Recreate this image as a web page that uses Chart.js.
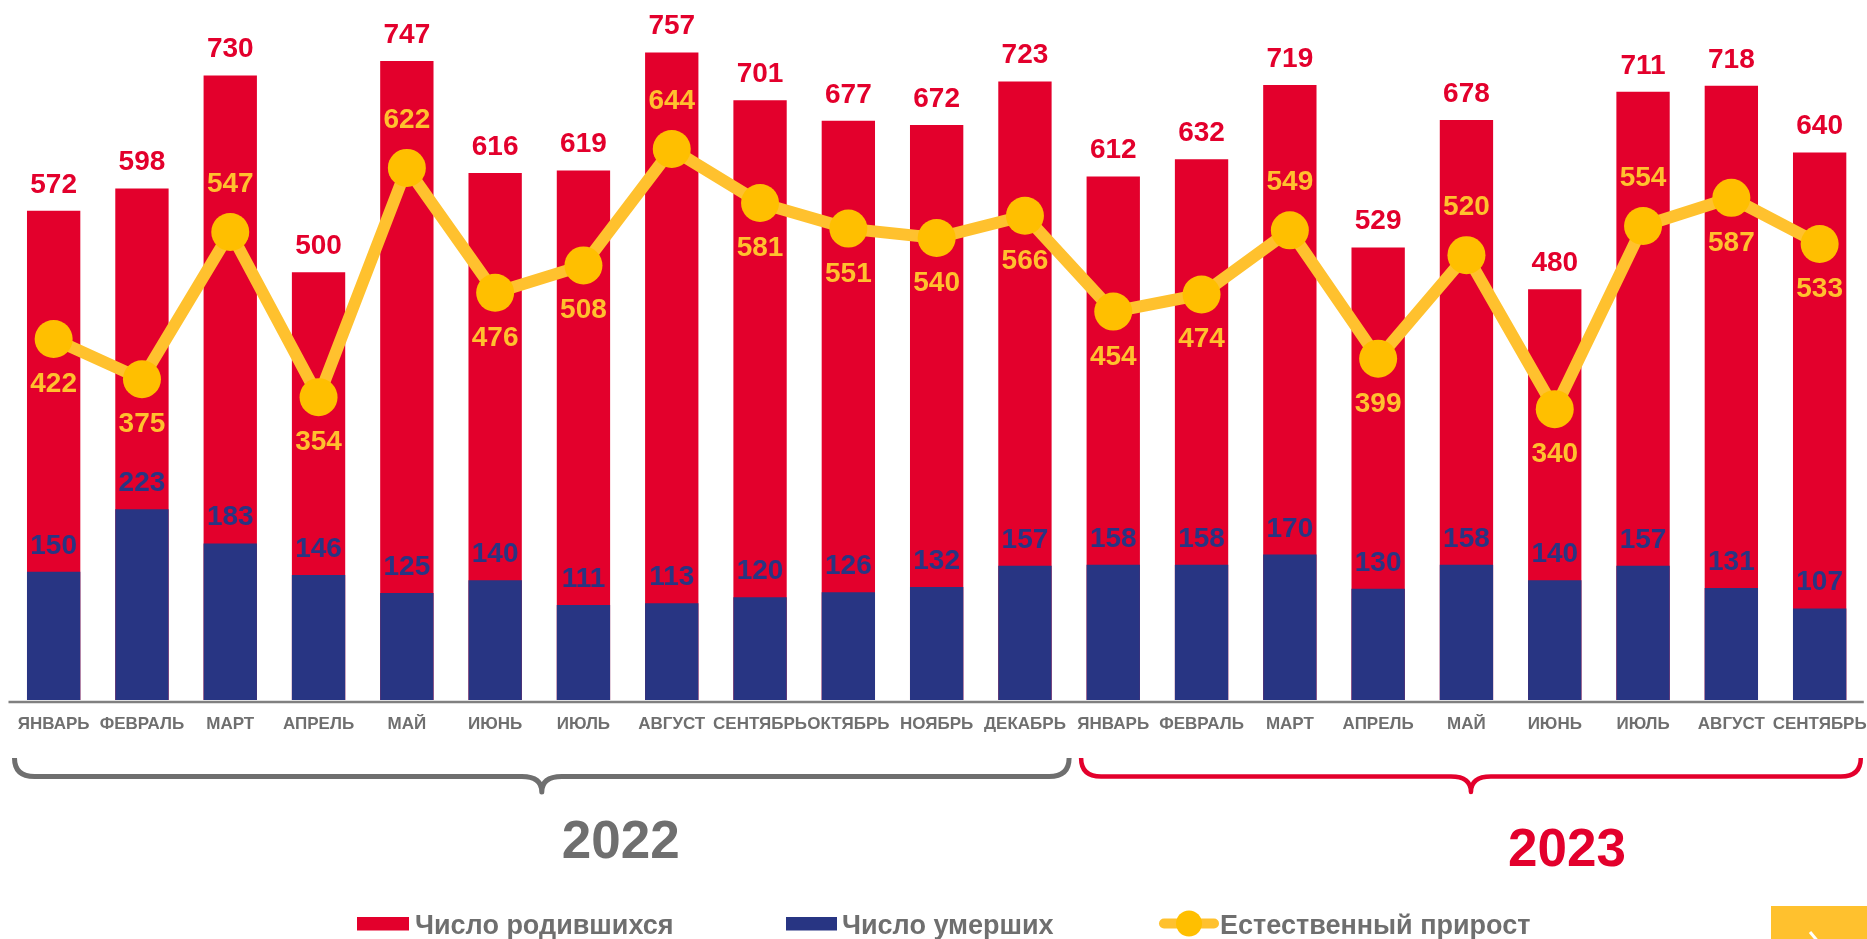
<!DOCTYPE html>
<html><head><meta charset="utf-8">
<script src="https://cdn.jsdelivr.net/npm/chart.js@4/dist/chart.umd.min.js"></script>
<style>html,body{margin:0;padding:0;background:#fff;overflow:hidden}canvas{display:block}</style>
</head><body>
<canvas id="c" width="1867" height="939"></canvas>
<script>
const months = ['ЯНВАРЬ','ФЕВРАЛЬ','МАРТ','АПРЕЛЬ','МАЙ','ИЮНЬ','ИЮЛЬ','АВГУСТ','СЕНТЯБРЬ','ОКТЯБРЬ','НОЯБРЬ','ДЕКАБРЬ','ЯНВАРЬ','ФЕВРАЛЬ','МАРТ','АПРЕЛЬ','МАЙ','ИЮНЬ','ИЮЛЬ','АВГУСТ','СЕНТЯБРЬ'];
const births = [572,598,730,500,747,616,619,757,701,677,672,723,612,632,719,529,678,480,711,718,640];
const deaths = [150,223,183,146,125,140,111,113,120,126,132,157,158,158,170,130,158,140,157,131,107];
const growth = [422,375,547,354,622,476,508,644,581,551,540,566,454,474,549,399,520,340,554,587,533];
const growthLabelSide = ['b','b','a','b','a','b','b','a','b','b','b','b','b','b','a','b','a','b','a','b','b'];
const yearGroups = [{label:'2022', from:0, to:11}, {label:'2023', from:12, to:20}];
const seriesNames = ['Число родившихся','Число умерших','Естественный прирост'];

const RED='#E3002C', NAVY='#283583', YEL='#FFC12E', YELPT='#FFBF00', GRAY='#6F6F6F';
const FONT='"Liberation Sans", Arial, sans-serif';

function brace(ctx,x1,x2,yTop,yMid,yTip,r,color,w){
  const xc=(x1+x2)/2;
  ctx.strokeStyle=color; ctx.lineWidth=w; ctx.lineCap='butt'; ctx.lineJoin='round';
  ctx.beginPath();
  ctx.moveTo(x1,yTop);
  ctx.quadraticCurveTo(x1,yMid,x1+r,yMid);
  ctx.lineTo(xc-r,yMid);
  ctx.quadraticCurveTo(xc,yMid,xc,yTip);
  ctx.quadraticCurveTo(xc,yMid,xc+r,yMid);
  ctx.lineTo(x2-r,yMid);
  ctx.quadraticCurveTo(x2,yMid,x2,yTop);
  ctx.stroke();
  return xc;
}

const overlay = {
  id:'overlay',
  afterDatasetsDraw(chart){
    const ctx=chart.ctx, ca=chart.chartArea, xs=chart.scales.x;
    ctx.save();
    // axis line
    ctx.strokeStyle='#808080'; ctx.lineWidth=2.5;
    ctx.beginPath(); ctx.moveTo(ca.left-1, ca.bottom+2); ctx.lineTo(ca.right, ca.bottom+2); ctx.stroke();
    // value labels
    ctx.font='bold 28px '+FONT; ctx.textAlign='center'; ctx.textBaseline='alphabetic';
    const mLine=chart.getDatasetMeta(0), mDeaths=chart.getDatasetMeta(1), mBirths=chart.getDatasetMeta(2);
    ctx.fillStyle=RED;
    mBirths.data.forEach((el,i)=>ctx.fillText(String(births[i]), el.x, el.y-18));
    ctx.fillStyle=NAVY;
    mDeaths.data.forEach((el,i)=>ctx.fillText(String(deaths[i]), el.x, el.y-18));
    ctx.fillStyle=YEL;
    mLine.data.forEach((el,i)=>{
      const y = growthLabelSide[i]==='a' ? el.y-40 : el.y+53;
      ctx.fillText(String(growth[i]), el.x, y);
    });
    // braces & years
    const step = xs.getPixelForValue(1)-xs.getPixelForValue(0);
    const g0=yearGroups[0], g1=yearGroups[1];
    const boundary = xs.getPixelForValue(g0.to)+step/2;
    const xc0 = brace(ctx, xs.getPixelForValue(g0.from)-step/2+5, boundary, 758, 776.5, 792, 20, GRAY, 5);
    const xc1 = brace(ctx, boundary+12, xs.getPixelForValue(g1.to)+step/2-3, 758, 776.5, 792, 20, RED, 4.5);
    ctx.font='bold 53px '+FONT; ctx.textAlign='center';
    ctx.fillStyle=GRAY; ctx.fillText(g0.label, xc0+79, 858);
    ctx.fillStyle=RED; ctx.fillText(g1.label, xc1+96, 866);
    // legend
    ctx.font='bold 27px '+FONT; ctx.textAlign='left';
    ctx.fillStyle=RED; ctx.fillRect(357,917,52,13.5);
    ctx.fillStyle=GRAY; ctx.fillText(seriesNames[0], 415, 933.5);
    ctx.fillStyle=NAVY; ctx.fillRect(786,917,51,13.5);
    ctx.fillStyle=GRAY; ctx.fillText(seriesNames[1], 842, 933.5);
    ctx.strokeStyle=YEL; ctx.lineWidth=10; ctx.lineCap='round';
    ctx.beginPath(); ctx.moveTo(1164,923.5); ctx.lineTo(1214,923.5); ctx.stroke();
    ctx.fillStyle=YELPT; ctx.beginPath(); ctx.arc(1189,923.5,13,0,Math.PI*2); ctx.fill();
    ctx.fillStyle=GRAY; ctx.fillText(seriesNames[2], 1220, 933.5);
    // corner button
    ctx.fillStyle=YEL; ctx.fillRect(1771,906,96,33);
    ctx.strokeStyle='#FFFFFF'; ctx.lineWidth=3; ctx.lineCap='butt';
    ctx.beginPath(); ctx.moveTo(1810,932); ctx.lineTo(1820,944); ctx.stroke();
    ctx.restore();
  }
};

new Chart(document.getElementById('c'), {
  type:'bar',
  data:{
    labels: months,
    datasets:[
      {type:'line', label:seriesNames[2], data:growth, borderColor:YEL, borderWidth:12, tension:0,
       pointRadius:19, pointHoverRadius:19, pointBackgroundColor:YELPT, pointBorderWidth:0, pointBorderColor:YELPT, clip:false},
      {label:seriesNames[1], data:deaths, backgroundColor:NAVY, grouped:false, barPercentage:0.604, categoryPercentage:1},
      {label:seriesNames[0], data:births, backgroundColor:RED, grouped:false, barPercentage:0.604, categoryPercentage:1}
    ]
  },
  options:{
    responsive:false, devicePixelRatio:1, animation:false, events:[],
    layout:{autoPadding:false, padding:{top:15.6, left:9.5, right:3.2, bottom:0}},
    plugins:{legend:{display:false}, tooltip:{enabled:false}},
    scales:{
      y:{display:false, min:0, max:800},
      x:{
        grid:{display:false, drawTicks:false}, border:{display:false},
        ticks:{autoSkip:false, maxRotation:0, minRotation:0, padding:14, color:GRAY, font:{family:FONT, size:17, weight:'bold'}},
        afterFit(s){ s.height=239; s.paddingLeft=0; s.paddingRight=0; }
      }
    }
  },
  plugins:[overlay]
});
</script>
</body></html>
